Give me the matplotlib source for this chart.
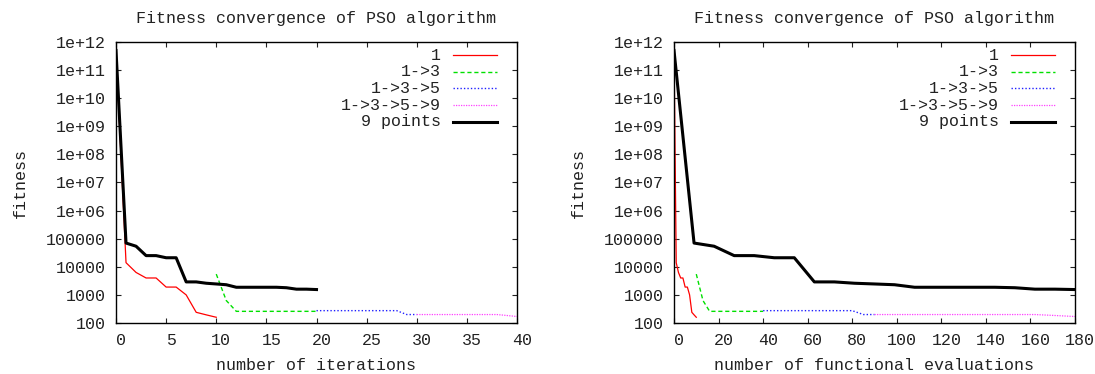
import matplotlib
matplotlib.use("Agg")
import matplotlib.pyplot as plt
from matplotlib.ticker import FixedLocator, NullLocator
from matplotlib.transforms import ScaledTranslation

plt.rcParams['font.family'] = ['Liberation Mono', 'DejaVu Sans Mono']
plt.rcParams['font.size'] = 12
TXT = "#222222"

# data: fitness per iteration for each stage
labels = ["1", "1->3", "1->3->5", "1->3->5->9", "9 points"]
particles = [1, 3, 5, 9, 9]

iter_1 = [0, 1, 2, 3, 4, 5, 6, 7, 8, 9, 10]
fit_1 = [5e11, 14000, 6300, 4000, 4000, 1900, 1900, 1000, 240, 195, 160]

iter_13 = [10, 11, 12, 13, 14, 15, 16, 17, 18, 19, 20]
fit_13 = [5500, 630, 260, 260, 260, 260, 260, 260, 260, 260, 260]

iter_135 = [20, 21, 22, 23, 24, 25, 26, 27, 28, 29, 30]
fit_135 = [275, 275, 275, 275, 275, 275, 275, 275, 275, 200, 200]

iter_1359 = [30, 31, 32, 33, 34, 35, 36, 37, 38, 39, 40]
fit_1359 = [200, 200, 200, 200, 200, 200, 200, 200, 200, 185, 170]

iter_9 = [0, 1, 2, 3, 4, 5, 6, 7, 8, 9, 10, 11, 12, 13, 14, 15, 16, 17, 18, 19, 20]
fit_9 = [5e11, 70000, 54000, 25000, 25000, 21000, 21000, 2900, 2900, 2600, 2450,
         2300, 1870, 1870, 1870, 1870, 1870, 1800, 1600, 1600, 1550]

iters = [iter_1, iter_13, iter_135, iter_1359, iter_9]
fits = [fit_1, fit_13, fit_135, fit_1359, fit_9]

# line styles like gnuplot's png terminal
styles = [
    dict(color="#ff0000", lw=0.9, ls="-"),
    dict(color="#00e000", lw=1.0, ls=(0, (3, 2))),
    dict(color="#2020ff", lw=1.0, ls=(0, (1, 1.5))),
    dict(color="#ff40ff", lw=0.9, ls=(0, (1, 1))),
    dict(color="#000000", lw=2.2, ls="-"),
]


def to_evals(it, n, it0, ev0):
    # functional evaluations = evaluations so far + particles per iteration
    return [ev0 + n * (i - it0) for i in it]


fig = plt.figure(figsize=(10.95, 3.74), dpi=100)
W, H = 1095, 374
AW, AH = 401, 281
ax1 = fig.add_axes([116 / W, 1 - 323 / H, AW / W, AH / H])
ax2 = fig.add_axes([674 / W, 1 - 323 / H, AW / W, AH / H])

# x positions for the evaluations plot
ev_x = []
ev0 = 0
for k in range(4):
    xs = to_evals(iters[k], particles[k], iters[k][0], ev0)
    ev_x.append(xs)
    ev0 = xs[-1]
ev_x.append(to_evals(iter_9, 9, 0, 0))

for k in range(5):
    ax1.plot(iters[k], fits[k], **styles[k])
    ax2.plot(ev_x[k], fits[k], **styles[k])

yt = [10.0 ** e for e in range(2, 13)]
ylab = ["100", "1000", "10000", "100000"] + ["1e+%02d" % e for e in range(6, 13)]
shift = ScaledTranslation(5 / 100, 0, fig.dpi_scale_trans)

for ax, xmax, step, xl in [(ax1, 40, 5, "number of iterations"),
                           (ax2, 180, 20, "number of functional evaluations")]:
    ax.set_yscale("log")
    ax.set_ylim(100, 1e12)
    ax.set_xlim(0, xmax)
    ax.yaxis.set_major_locator(FixedLocator(yt))
    ax.yaxis.set_minor_locator(NullLocator())
    ax.set_yticklabels(ylab)
    ax.set_xticks(list(range(0, xmax + 1, step)))
    ax.tick_params(direction="in", top=True, right=True, length=3.5, width=0.8,
                   labelsize=12, colors=TXT)
    ax.tick_params(axis="y", pad=7.5)
    ax.tick_params(axis="x", pad=7)
    for lab in ax.get_xticklabels():
        lab.set_transform(lab.get_transform() + shift)
    for s in ax.spines.values():
        s.set_linewidth(1.0)

    ax.text(0.5, (323 - 18) / AH, "Fitness convergence of PSO algorithm",
            transform=ax.transAxes, ha="center", va="center", color=TXT)
    ax.set_xlabel(xl, color=TXT, va="center")
    ax.xaxis.set_label_coords(0.5, -(366 - 323) / AH)
    ax.set_ylabel("fitness", color=TXT, va="center")
    ax.yaxis.set_label_coords(-(116 - 20) / AW, 0.5)

    # key drawn the gnuplot way: text right-aligned, sample line after it
    for k in range(5):
        yk = (323 - 55 - 16.7 * k) / AH
        ax.text(325 / AW, yk, labels[k], transform=ax.transAxes,
                ha="right", va="center", color=TXT)
        ax.plot([337 / AW, 381 / AW], [yk, yk], transform=ax.transAxes,
                clip_on=False, **styles[k])

fig.savefig("out.png", dpi=100)
